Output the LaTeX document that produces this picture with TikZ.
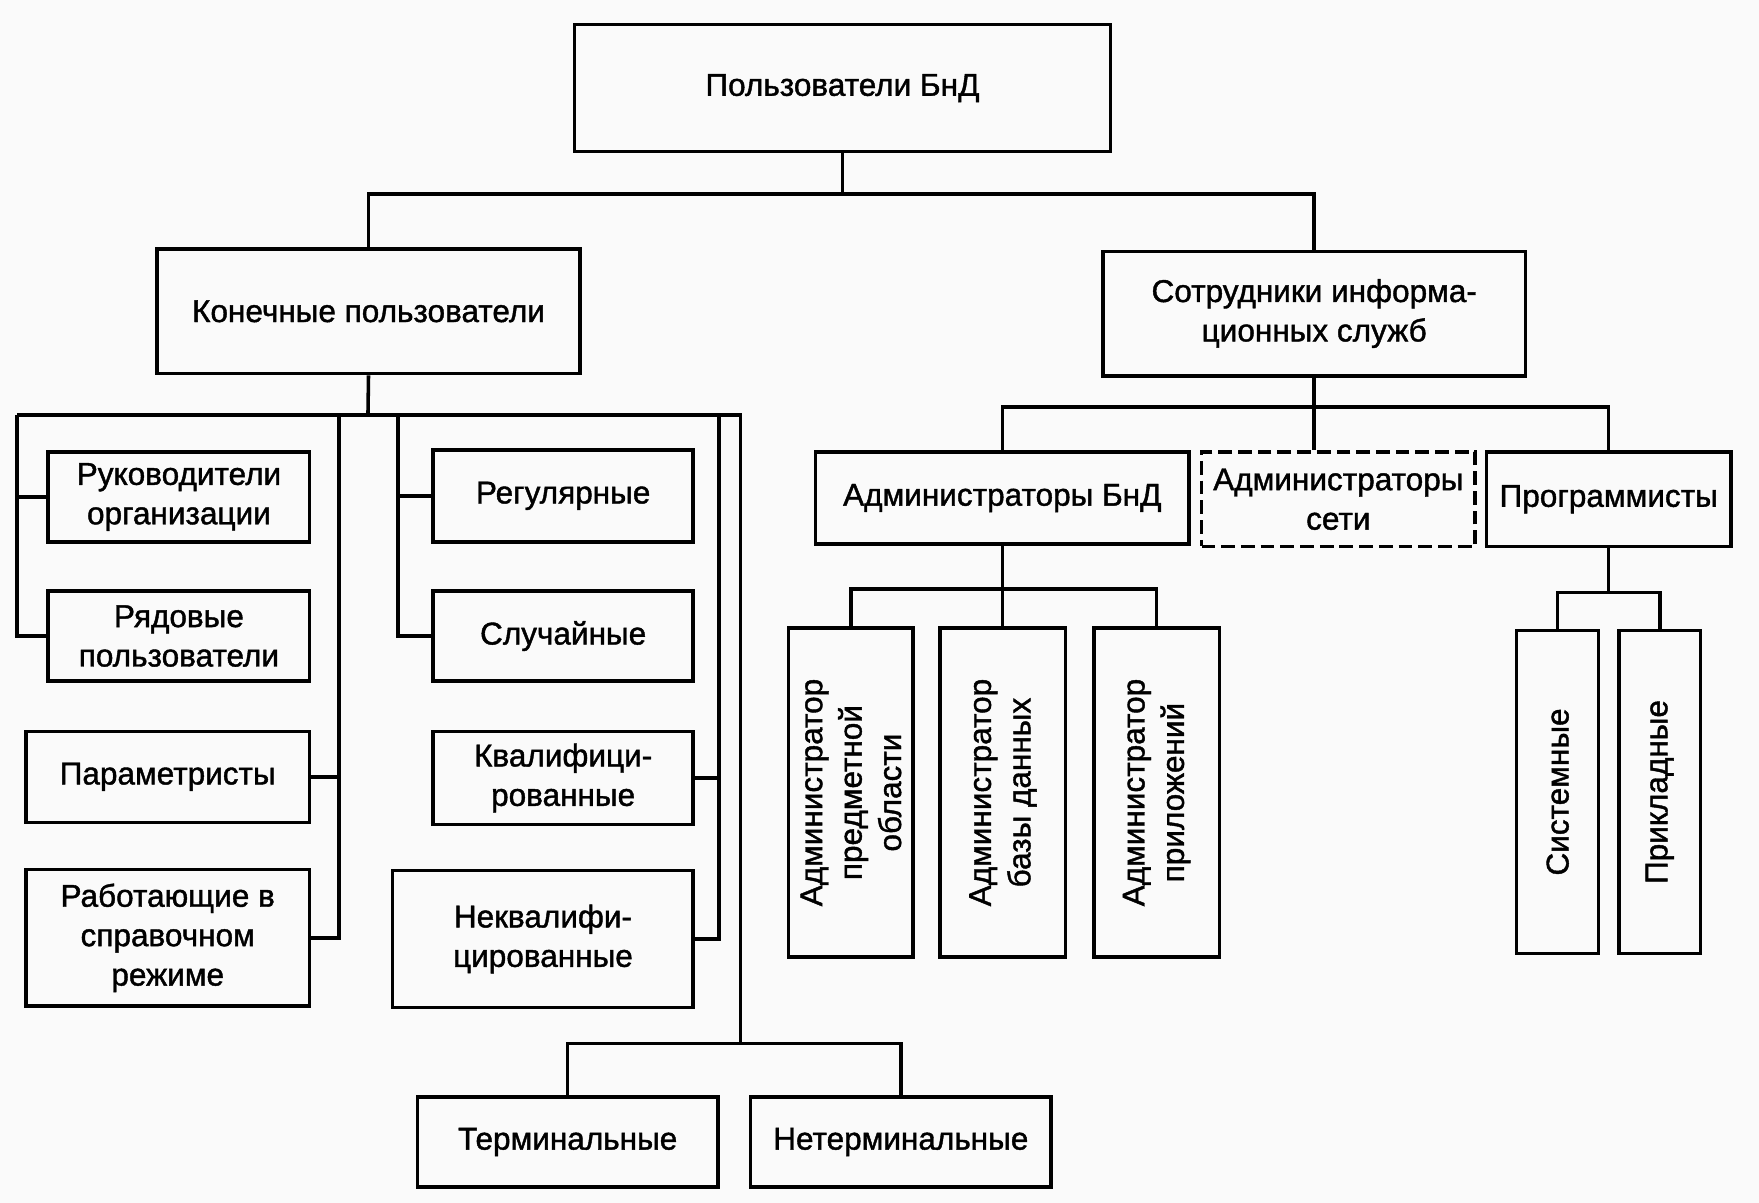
\documentclass[tikz,border=0pt]{standalone}
\usepackage{fontspec}
\setmainfont{Liberation Sans}[BoldFont={Liberation Sans},BoldFeatures={FakeBold=1.3}]

\begin{document}
\begin{tikzpicture}
  [x=0.02cm,y=-0.02cm,line width=1.8pt,
   every node/.style={draw,line width=1.8pt,align=center,inner sep=2pt,
     font=\fontsize{16}{20}\selectfont\bfseries}]
  \fill[gray!4] (0,0) rectangle (1568,1072);
  \useasboundingbox (0,0) rectangle (1568,1072);
  \node[minimum width=9.56cm,minimum height=2.26cm] (users) at (751,78.5) {Пользователи БнД};
  \node[minimum width=7.54cm,minimum height=2.22cm] (endu) at (328.5,277.5) {Конечные пользователи};
  \node[minimum width=7.54cm,minimum height=2.22cm] (staff) at (1171.5,279.5) {Сотрудники информа-\\ционных служб};
  % end users
  \node[minimum width=4.66cm,minimum height=1.6cm] (ruk) at (159.5,443) {Руководители\\организации};
  \node[minimum width=4.66cm,minimum height=1.6cm] (ryad) at (159.5,567) {Рядовые\\пользователи};
  \node[minimum width=5.06cm,minimum height=1.62cm] (param) at (149.5,692.5) {Параметристы};
  \node[minimum width=5.06cm,minimum height=2.44cm] (rabot) at (149.5,836) {Работающие в\\справочном\\режиме};
  \node[minimum width=4.64cm,minimum height=1.64cm] (regul) at (502,442) {Регулярные};
  \node[minimum width=4.64cm,minimum height=1.6cm] (sluch) at (502,567) {Случайные};
  \node[minimum width=4.64cm,minimum height=1.66cm] (kval) at (502,693.5) {Квалифици-\\рованные};
  \node[minimum width=5.36cm,minimum height=2.44cm] (nekval) at (484,837) {Неквалифи-\\цированные};
  \node[minimum width=5.36cm,minimum height=1.6cm] (term) at (506,1018) {Терминальные};
  \node[minimum width=5.36cm,minimum height=1.6cm] (nonterm) at (803,1018) {Нетерминальные};
  % information staff
  \node[minimum width=6.66cm,minimum height=1.64cm] (admdb) at (893.5,444) {Администраторы БнД};
  \node[minimum width=4.88cm,minimum height=1.68cm,dash pattern=on 7pt off 3pt] (admnet) at (1193,445) {Администраторы\\сети};
  \node[minimum width=4.36cm,minimum height=1.68cm] (prog) at (1434,445) {Программисты};
  \node[rotate=90,minimum width=5.86cm,minimum height=2.22cm] (adm1) at (758.5,706.5) {Администратор\\предметной\\области};
  \node[rotate=90,minimum width=5.86cm,minimum height=2.24cm] (adm2) at (894,706.5) {Администратор\\базы данных};
  \node[rotate=90,minimum width=5.86cm,minimum height=2.24cm] (adm3) at (1031,706.5) {Администратор\\приложений};
  \node[rotate=90,minimum width=5.76cm,minimum height=1.46cm] (sys) at (1388.5,706) {Системные};
  \node[rotate=90,minimum width=5.76cm,minimum height=1.46cm] (appl) at (1479.5,706) {Прикладные};

  \coordinate (b1) at (751,173);
  \coordinate (b2) at (328,370);
  \coordinate (c1) at (15,370);
  \coordinate (c2) at (302,370);
  \coordinate (c3) at (355,370);
  \coordinate (c4) at (641,370);
  \coordinate (c5) at (660,370);
  \coordinate (c6) at (660,930);
  \coordinate (r1) at (1172,363);
  \coordinate (r2) at (893,525);
  \coordinate (r3) at (1434,528);

  \draw (users) -- (b1);
  \draw (endu.north) |- (b1) -| (staff.north);
  \draw (endu.south) -- (b2);
  \draw (c1) -- (c5) -- (c6);
  \draw (term.north) |- (c6) -| (nonterm.north);
  \foreach \from/\to in {c1/ryad.west,c2/rabot.east,c3/sluch.west,c4/nekval.east}
    \draw (\from) |- (\to);
  \foreach \from/\to in {c1/ruk.west,c2/param.east,c3/regul.west,c4/kval.east}
    \draw (\from |- \to) -- (\to);
  \draw (staff.south) -- (staff.south |- admnet.north);
  \draw (admdb.north) |- (r1) -| (prog.north);
  \draw (admdb.south) -- (admdb.south |- adm2.east);
  \draw (adm1.east) |- (r2) -| (adm3.east);
  \draw (prog.south) -- (r3);
  \draw (sys.east) |- (r3) -| (appl.east);
\end{tikzpicture}
\end{document}
